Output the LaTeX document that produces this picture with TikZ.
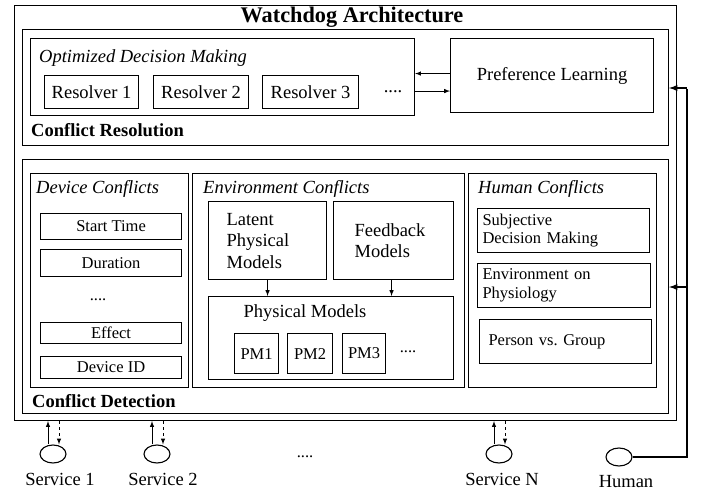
\documentclass[tikz,border=0pt]{standalone}
\usepackage{fontspec}
\setmainfont{Liberation Serif}
\usepackage{tikz}
\usetikzlibrary{shapes.geometric, positioning, arrows}
\newcommand{\titf}{\fontsize{22.3}{26}\selectfont\bfseries}
\newcommand{\bigf}{\fontsize{18.5}{21.5}\selectfont}
\newcommand{\smlf}{\fontsize{16.5}{18.5}\selectfont}

\tikzset{
  blk/.style={draw, line width=1.1pt, anchor=north west, inner sep=0pt, font=\bigf},
  itm/.style={blk, font=\smlf},
  hdr/.style={anchor=base west, inner sep=0pt, font=\bigf\itshape},
  sec/.style={anchor=base west, inner sep=0pt, font=\bigf\bfseries},
  txt/.style={anchor=base, inner sep=0pt, font=\bigf},
  srv/.style={draw, ellipse, line width=1.1pt, minimum width=26pt, minimum height=18pt, inner sep=0pt},
  arr/.style={-latex, line width=1pt},
  hline/.style={line width=2.6pt},
  harr/.style={-latex, line width=1.8pt}
}

\begin{document}
\begin{tikzpicture}[x=1pt, y=-1pt]
\useasboundingbox (0,0) rectangle (701,491);
\node[blk, minimum width=662pt, minimum height=415pt] (outer) at (14,5) {};
\node[anchor=base, inner sep=0pt, font=\titf] (ttl) at (352,22) {Watchdog Architecture};

% conflict resolution
\node[blk, minimum width=646pt, minimum height=116pt] (resol) at (22,29) {};
\node[blk, minimum width=384pt, minimum height=77pt] (odm) at (30,38) {};
\node[hdr] (odmtxt) at (39,62) {Optimized Decision Making};
\node[blk, minimum width=94pt, minimum height=33pt] (res1) at (44,75) {Resolver 1};
\node[blk, minimum width=95pt, minimum height=33pt] (res2) at (153,75) {Resolver 2};
\node[blk, minimum width=96pt, minimum height=33pt] (res3) at (262,75) {Resolver 3};
\node[txt] (rdots) at (393,92) {....};
\node[blk, minimum width=203pt, minimum height=74pt] (pref) at (450,38) {Preference Learning};
\draw[arr] ([yshift=2pt]pref.west) -- ([yshift=2pt]pref.west -| odm.east);
\draw[arr] ([yshift=-14pt]odm.east) -- ([yshift=-14pt]odm.east -| pref.west);
\node[sec] (crtxt) at (31,136) {Conflict Resolution};

% conflict detection
\node[blk, minimum width=646pt, minimum height=254pt] (detect) at (22,159) {};

\node[blk, minimum width=158pt, minimum height=214pt] (devc) at (30,173) {};
\node[hdr] (devtxt) at (36,193) {Device Conflicts};
\node[itm, minimum width=141pt, minimum height=26pt] (st) at (40,213) {Start Time};
\node[itm, minimum width=141pt, minimum height=27pt] (dur) at (40,249) {Duration};
\node[txt, font=\smlf] (ddots) at (98,300) {....};
\node[itm, minimum width=141pt, minimum height=21pt] (eff) at (40,322) {Effect};
\node[itm, minimum width=141pt, minimum height=22pt] (did) at (40,356) {Device ID};

\node[blk, minimum width=272pt, minimum height=214pt] (envc) at (192,173) {};
\node[hdr] (envtxt) at (203,193) {Environment Conflicts};
\node[blk, inner xsep=18pt, text width=82pt, align=left, minimum height=78pt] (lat) at (208,201) {Latent\\Physical\\Models};
\node[blk, inner xsep=21pt, text width=78pt, align=left, minimum height=78pt] (fb) at (333,201) {Feedback\\Models};
\node[blk, minimum width=245pt, minimum height=83pt] (phys) at (208,296) {};
\node[txt] (ptxt) at (305,317) {Physical Models};
\node[itm, minimum width=44pt, minimum height=40pt] (pm1) at (234,333) {PM1};
\node[itm, minimum width=45pt, minimum height=40pt] (pm2) at (287,333) {PM2};
\node[itm, minimum width=43pt, minimum height=40pt] (pm3) at (342,333) {PM3};
\node[txt, font=\smlf] (pdots) at (408,352) {....};
\draw[arr] (lat.south) -- (lat.south |- phys.north);
\draw[arr] ([xshift=-2pt]fb.south) -- ([xshift=-2pt]fb.south |- phys.north);

\node[blk, minimum width=188pt, minimum height=214pt] (humc) at (468,173) {};
\node[hdr] (humtxt) at (478,193) {Human Conflicts};
\node[itm, inner xsep=5pt, text width=162pt, align=left, minimum height=44pt] (subj) at (477,208) {Subjective\\Decision Making};
\node[itm, inner xsep=5pt, text width=163pt, align=left, minimum height=44pt] (envp) at (477,263) {Environment on\\Physiology};
\node[itm, inner xsep=9pt, text width=154pt, align=left, minimum height=44pt] (pvg) at (479,319) {Person vs.\ Group};

\node[sec] (cdtxt) at (32,407) {Conflict Detection};

% services and human
\node[srv] (s1) at (53,454) {};
\node[srv] (s2) at (157,454) {};
\node[srv] (sn) at (499,454) {};
\node[srv] (hum) at (619,457) {};
\node[txt] (s1txt) at (60,485) {Service 1};
\node[txt] (s2txt) at (163,485) {Service 2};
\node[txt] (sntxt) at (502,485) {Service N};
\node[txt] (humtxt2) at (626,487) {Human};
\node[txt, font=\smlf] (sdots) at (305,457) {....};
\foreach \s in {s1,s2,sn}{
  \draw[arr] ([xshift=-5pt]\s.north) -- ([xshift=-5pt]\s.north |- outer.south);
  \draw[arr, dashed] ([xshift=6pt]\s.north |- outer.south) -- ([xshift=6pt]\s.north);
}
\coordinate (hb) at (687,457);
\coordinate (ht) at (687,88);
\coordinate (hm) at (687,287);
\draw[hline] (hum.east) -- (hb) -- ([yshift=-1.3pt]ht);
\draw[harr] (ht) -- (ht -| resol.east);
\draw[harr] (hm) -- (hm -| detect.east);
\end{tikzpicture}
\end{document}
